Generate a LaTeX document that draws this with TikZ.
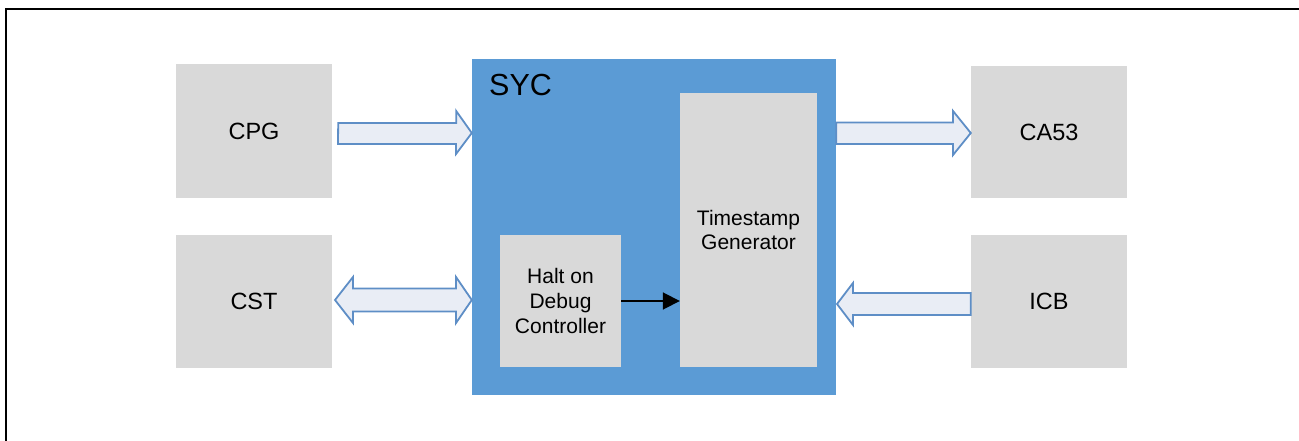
\documentclass[tikz,border=0pt]{standalone}
\usepackage{fontspec}
\setmainfont{Liberation Sans}
\usetikzlibrary{arrows.meta,calc}
\definecolor{boxgray}{RGB}{217,217,217}
\definecolor{sycblue}{RGB}{91,155,213}
\definecolor{arrfill}{RGB}{233,237,245}
\definecolor{arrline}{RGB}{94,142,198}
\tikzset{
  graybox/.style={draw=none,fill=boxgray,inner sep=0pt,font=\fontsize{23.5}{28}\selectfont},
  innerbox/.style={draw=none,fill=boxgray,inner sep=0pt,align=center,font=\fontsize{21}{24.8}\selectfont},
  blockarrow/.style={draw=arrline,fill=arrfill,line width=1.8pt,line join=miter},
  frameline/.style={line width=2.2pt,black},
}
\begin{document}
\begin{tikzpicture}[x=1pt,y=-1pt]
\useasboundingbox (0,0) rectangle (1299,441);
\draw[frameline] (6,441) -- (6,9) -- (1299,9);
% outer boxes
\node[graybox,minimum width=156pt,minimum height=134pt] (cpg) at (254,131) {CPG};
\node[graybox,minimum width=156pt,minimum height=133pt] (cst) at (254,301.5) {CST};
\node[graybox,minimum width=156pt,minimum height=132pt] (ca) at (1049,132) {CA53};
\node[graybox,minimum width=156pt,minimum height=133pt] (icb) at (1049,301.5) {ICB};
% SYC
\node[fill=sycblue,inner sep=0pt,minimum width=364pt,minimum height=336pt] (syc) at (654,227) {};
\node[anchor=base west,inner sep=0pt,font=\fontsize{30.5}{36}\selectfont] (syct) at (489,96) {SYC};
\node[innerbox,minimum width=137pt,minimum height=274pt] (ts) at (748.5,230) {Timestamp\\Generator};
\node[innerbox,minimum width=121pt,minimum height=132pt] (halt) at (560.5,301) {Halt on\\Debug\\Controller};
\draw[line width=1.8pt,-{Triangle[length=17pt,width=17pt]}] (halt.east) -- (halt.east -| ts.west);
% block arrows
% CPG -> SYC
\draw[blockarrow] ($(cpg.east)+(6,-8)$) coordinate (a1) -- ++(118,0) -- ++(0,-12) -- (syc.west |- 0,133) -- (456,154) -- (456,144) -- (338,144) -- cycle;
% CST <-> SYC
\draw[blockarrow] (335,300) -- (353,277) -- (353,288.5) -- (456,288.5) -- (456,277) -- (syc.west |- 0,300) -- (456,323) -- (456,311.5) -- (353,311.5) -- (353,323) -- cycle;
% SYC -> CA53
\draw[blockarrow] (syc.east |- 0,122.5) -- (953,122.5) -- (953,111) -- (ca.west |- 0,133) -- (953,155) -- (953,144) -- (syc.east |- 0,144) -- cycle;
% ICB -> SYC
\draw[blockarrow] (icb.west |- 0,293) -- (853,293) -- (853,283) -- (837,304) -- (853,325) -- (853,315) -- (icb.west |- 0,315) -- cycle;
\end{tikzpicture}
\end{document}
